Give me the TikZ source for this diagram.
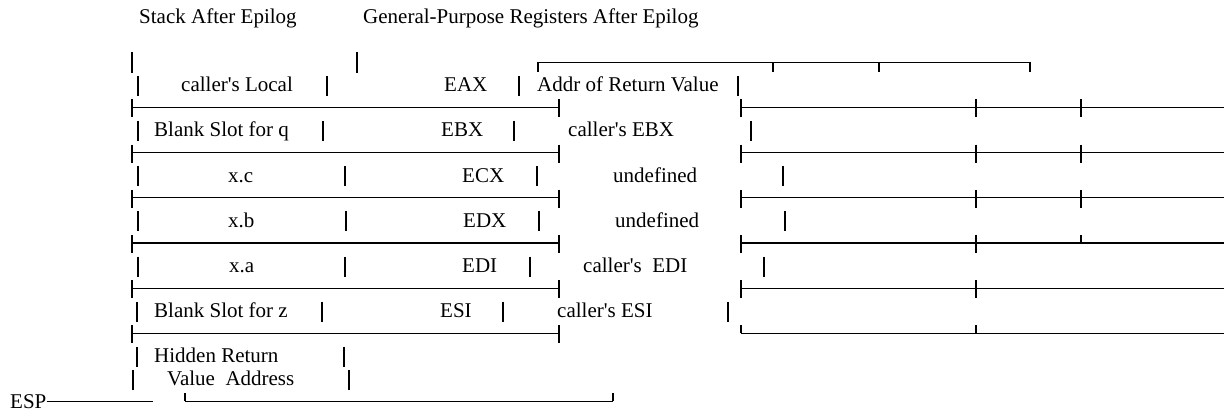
\documentclass[tikz,border=0pt]{standalone}
\usepackage{fontspec}
% a family without TeX ligatures keeps the apostrophes straight
\newfontfamily\diagfont{Liberation Serif}
% line i of the text grid is centred at y = 17 + 22.6 i (y grows downwards)
\newcommand\rowbar[2]{\draw[vbar] (#1,{17+22.6*#2-9}) -- (#1,{17+22.6*#2+11});}
\newcommand\rulebar[3]{\draw[rule] (#1,{17+22.6*#3}) -- (#2,{17+22.6*#3});}
\newcommand\tickud[2]{\draw[rule] (#1,{17+22.6*#2-8}) -- (#1,{17+22.6*#2+10});}
\newcommand\ticku[2]{\draw[rule] (#1,{17+22.6*#2-8}) -- (#1,{17+22.6*#2});}
\newcommand\tickd[2]{\draw[rule] (#1,{17+22.6*#2}) -- (#1,{17+22.6*#2+10});}
\newcommand\celltext[4]{\node[lbl] (#1) at (#2,{17+22.6*#3+7}) {#4};}
\begin{document}
\begin{tikzpicture}[x=1pt,y=-1pt,
  lbl/.style={inner sep=0pt, anchor=base west, font=\diagfont\fontsize{21}{24}\selectfont},
  rule/.style={line width=1.1pt, line cap=butt},
  vbar/.style={line width=1.1pt, line cap=butt}]
\useasboundingbox[fill=white] (0,0) rectangle (1224,411);

% headings
\celltext{hstack}{139}{0}{Stack After Epilog}
\celltext{hregs}{363}{0}{General-Purpose Registers After Epilog}

% line 2: loose bars and the open bracket on the right
\draw[vbar] (132,{17+22.6*2-10}) -- (132,{17+22.6*2+11});
\draw[vbar] (357,{17+22.6*2-10}) -- (357,{17+22.6*2+11});
\rulebar{538}{1030}{2}
\tickd{538}{2}\tickd{773}{2}\tickd{879}{2}\tickd{1030}{2}

% line 3
\rowbar{138}{3}\rowbar{327}{3}\rowbar{519}{3}\rowbar{738}{3}
\celltext{s1}{181}{3}{caller's Local}
\celltext{r1}{444}{3}{EAX}
\celltext{v1}{537}{3}{Addr of Return Value}

% line 5
\rowbar{138}{5}\rowbar{323}{5}\rowbar{514}{5}\rowbar{751}{5}
\celltext{s2}{154}{5}{Blank Slot for q}
\celltext{r2}{441}{5}{EBX}
\celltext{v2}{568}{5}{caller's EBX}

% line 7
\rowbar{138}{7}\rowbar{345}{7}\rowbar{537}{7}\rowbar{783}{7}
\celltext{s3}{228}{7}{x.c}
\celltext{r3}{462}{7}{ECX}
\celltext{v3}{613}{7}{undefined}

% line 9
\rowbar{138}{9}\rowbar{346}{9}\rowbar{539}{9}\rowbar{785}{9}
\celltext{s4}{228}{9}{x.b}
\celltext{r4}{463}{9}{EDX}
\celltext{v4}{615}{9}{undefined}

% line 11
\rowbar{138}{11}\rowbar{345}{11}\rowbar{530}{11}\rowbar{764}{11}
\celltext{s5}{229}{11}{x.a}
\celltext{r5}{462}{11}{EDI}
\celltext{v5}{583}{11}{caller's\ \ EDI}

% line 13
\rowbar{137}{13}\rowbar{322}{13}\rowbar{503}{13}\rowbar{728}{13}
\celltext{s6}{154}{13}{Blank Slot for z}
\celltext{r6}{440}{13}{ESI}
\celltext{v6}{557}{13}{caller's ESI}

% lines 15 and 16
\rowbar{137}{15}\rowbar{344}{15}
\celltext{s7}{154}{15}{Hidden Return}
\rowbar{133}{16}\rowbar{349}{16}
\celltext{s8}{167}{16}{Value\ \ Address}

% stack separators
\foreach \i in {4,6,8,10,12,14} {
  \rulebar{132}{559}{\i}
  \tickud{132}{\i}\tickud{559}{\i}
}

% register-side separators
\foreach \i in {4,6,8} {
  \rulebar{741}{1224}{\i}
  \tickud{741}{\i}\tickud{976}{\i}\tickud{1081}{\i}
}
\rulebar{741}{1224}{10}
\tickud{741}{10}\tickud{976}{10}\ticku{1081}{10}
\rulebar{741}{1224}{12}
\tickud{741}{12}\tickud{976}{12}
\rulebar{741}{1224}{14}
\ticku{741}{14}\ticku{976}{14}

% stack pointer and closing bracket
\celltext{esp}{10}{17}{ESP}
\coordinate (espend) at (153,{17+22.6*17});
\draw[rule] (esp.east |- espend) -- (espend);
\rulebar{185}{613}{17}
\ticku{185}{17}\ticku{613}{17}
\end{tikzpicture}
\end{document}
